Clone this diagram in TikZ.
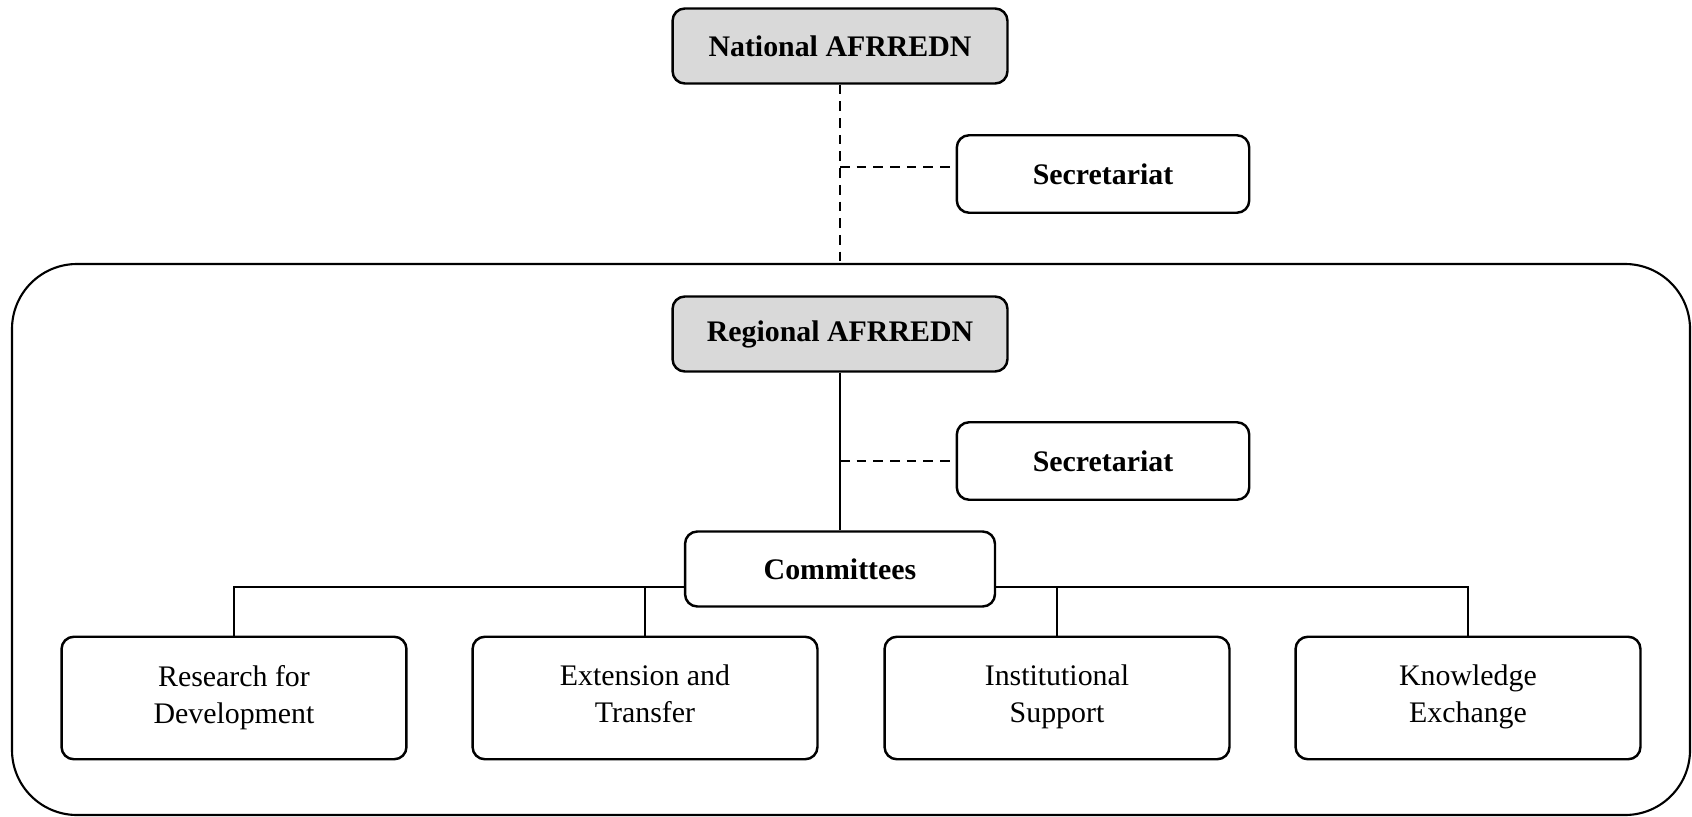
\documentclass[tikz,border=0pt]{standalone}
\usepackage{fontspec}
\setmainfont{Liberation Serif}
\usetikzlibrary{positioning}
\definecolor{headgray}{HTML}{D9D9D9}
\begin{document}
\begin{tikzpicture}[x=0.02cm, y=-0.02cm]
\tikzstyle{box}=[draw, line width=1.4pt, rounded corners=7pt, fill=white, align=center, inner sep=0pt,
  font=\fontsize{17}{21}\selectfont]
\tikzstyle{head}=[box, fill=headgray, font=\fontsize{17}{21}\selectfont\bfseries, minimum width=6.7cm, minimum height=1.5cm]
\tikzstyle{sec}=[box, font=\fontsize{17}{21}\selectfont\bfseries, minimum width=5.85cm, minimum height=1.55cm]
\tikzstyle{comm}=[box, text depth=4.5pt, minimum width=6.9cm, minimum height=2.45cm]
\tikzstyle{link}=[line width=1.1pt]
\tikzstyle{dlink}=[line width=1.1pt, dash pattern=on 5.5pt off 4pt]
\useasboundingbox (0,0) rectangle (1692,817);
%
\draw[line width=1.2pt, rounded corners=1.3cm] (12,264) rectangle (1690,815);
\coordinate (top) at (840,264);
%
\node[head](nat) at (840,46) {National AFRREDN};
\node[sec](sec1) at (1103,174) {Secretariat};
\node[head](reg) at (840,334) {Regional AFRREDN};
\node[sec](sec2) at (1103,461) {Secretariat};
\node[box, font=\fontsize{17}{21}\selectfont\bfseries, minimum width=6.2cm, minimum height=1.5cm](cmt) at (840,569) {Committees};
\coordinate (bus) at (840,587);
%
\node[comm](c1) at (234,698) {Research for\\Development};
\node[comm](c2) at (645,698) {Extension and\\Transfer};
\node[comm](c3) at (1057,698) {Institutional\\Support};
\node[comm](c4) at (1468,698) {Knowledge\\Exchange};
%
\draw[dlink] (nat.south) -- (top);
\draw[dlink] ([yshift=0.14cm]sec1.west -| nat.south) -- ([yshift=0.14cm]sec1.west);
\draw[link] (reg.south) -- (cmt.north);
\draw[dlink] (sec2.west -| reg.south) -- (sec2.west);
\draw[link] (cmt.west |- bus) -| (c1.north);
\draw[link] (cmt.east |- bus) -| (c4.north);
\draw[link] (c2.north) -- (c2.north |- bus);
\draw[link] (c3.north) -- (c3.north |- bus);
\end{tikzpicture}
\end{document}
